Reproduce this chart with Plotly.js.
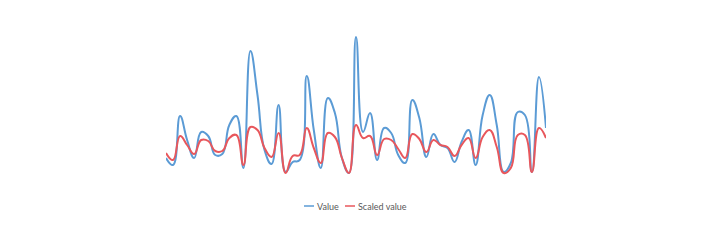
<!DOCTYPE html>
<html>
<head>
<meta charset="utf-8">
<script src="https://cdn.plot.ly/plotly-3.0.1.min.js"></script>
<style>html,body{margin:0;padding:0;background:#fff;}#chart{width:715px;height:242px;}</style>
</head>
<body>
<div id="chart"></div>
<script>
var categories = [];
for (var i = 1; i <= 55; i++) categories.push(i);

var valueSeries = [22,15,64,40,22,48,44,25,26,55,64,12,129,85,30,16,75,8,18,20,104,50,12,82,67,22,7,143,48,67,20,52,47,25,17,80,62,23,46,35,32,18,38,50,15,65,85,55,8,17,68,65,8,103,52];
var scaledSeries = [27,20,44,35,26,40,39,29,29,42,45,15,53,50,32,23,47,7,24,25,52,32,17,47,43,22,7,55,42,44,25,41,40,31,22,46,41,28,40,35,33,24,35,42,22,43,50,33,7,12,45,45,8,52,42];

var seriesNames = ['Value', 'Scaled value'];
var seriesColors = ['#5B9BD5', '#E8575C'];
var seriesData = [valueSeries, scaledSeries];

var traces = seriesData.map(function (ys, k) {
  return {x: categories, y: ys, name: seriesNames[k], type: 'scatter', mode: 'lines',
          showlegend: false,
          line: {color: seriesColors[k], width: 2, shape: 'spline', smoothing: 1.3}};
});

// Custom compact legend (Excel-like): short line sample followed by label
var W = 715, L = 166, R = 169, T = 30, B = 62;
var pw = W - L - R, ph = 242 - T - B;
function px2paperX(px) { return (px - L) / pw; }
function px2paperY(py) { return (242 - B - py) / ph; }
var legendY = 206;
var legendStarts = [304, 345];
var sampleLen = 10;
var shapes = [], annotations = [];
seriesNames.forEach(function (nm, k) {
  var x0 = legendStarts[k];
  shapes.push({type: 'line', xref: 'paper', yref: 'paper',
               x0: px2paperX(x0), x1: px2paperX(x0 + sampleLen),
               y0: px2paperY(legendY), y1: px2paperY(legendY),
               line: {color: seriesColors[k], width: 1.5}});
  annotations.push({xref: 'paper', yref: 'paper', x: px2paperX(x0 + sampleLen + 1),
                    y: px2paperY(legendY), xanchor: 'left', yanchor: 'middle',
                    text: nm, showarrow: false,
                    font: {family: 'Lato, sans-serif', size: 9, color: '#595959'}});
});

var layout = {
  width: W, height: 242,
  margin: {l: L, r: R, t: T, b: B},
  paper_bgcolor: '#fff', plot_bgcolor: '#fff',
  font: {family: 'Lato, sans-serif', size: 9, color: '#595959'},
  xaxis: {range: [1, 55], visible: false, showgrid: false, zeroline: false},
  yaxis: {range: [0, 150], visible: false, showgrid: false, zeroline: false},
  showlegend: false,
  shapes: shapes,
  annotations: annotations
};

Plotly.newPlot('chart', traces, layout, {displayModeBar: false, staticPlot: true});
</script>
</body>
</html>
